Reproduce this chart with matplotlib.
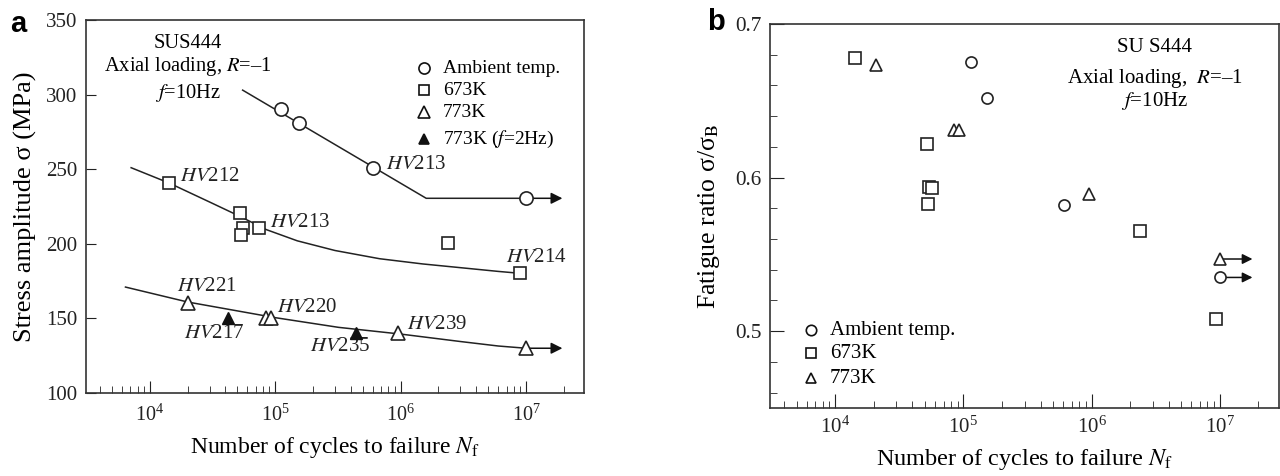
import numpy as np
import matplotlib
matplotlib.use("Agg")
import matplotlib.pyplot as plt
from matplotlib.ticker import LogLocator, MultipleLocator, NullFormatter, FormatStrFormatter

plt.rcParams['font.family'] = ['Liberation Serif', 'DejaVu Serif']
plt.rcParams['mathtext.fontset'] = 'stix'

# --- (a) S-N data, stress amplitude in MPa ---
amb_N = [1.12e5, 1.55e5, 6.0e5, 1.0e7]
amb_S = [290.5, 281, 251, 230.5]
k673_N = [1.42e4, 5.2e4, 5.5e4, 5.3e4, 7.4e4, 2.4e6, 9.0e6]
k673_S = [240.5, 220.5, 210.5, 206, 210.5, 200.5, 180.2]
k773_N = [2.0e4, 8.4e4, 9.2e4, 9.6e5, 1.0e7]
k773_S = [160.3, 150.3, 150.3, 140.5, 130]
k773f2_N = [4.2e4, 4.4e5]
k773f2_S = [150.5, 140.5]

# fitted S-N curves
amb_fit_N = [5.5e4, 1.6e6, 1.0e7]
amb_fit_S = [303, 230.5, 230.5]
k673_fit_N = [7.1e3, 1.42e4, 3.0e4, 5.2e4, 8.5e4, 1.5e5, 3.0e5, 6.8e5, 1.5e6, 3.0e6, 6.0e6, 9.0e6]
k673_fit_S = [251, 240.8, 228, 218.5, 209.5, 202, 195.5, 190, 186.5, 184, 181.5, 180.2]
k773_fit_N = [6.4e3, 2.0e4, 1.0e5, 3.2e5, 1.0e6, 3.0e6, 6.0e6, 1.0e7]
k773_fit_S = [171, 161, 150.5, 144, 139.5, 134.5, 131.5, 130]
runout_end = 1.95e7

# hardness labels: (N, S, text)
hv_labels = [
    (1.74e4, 245, 'HV212'),
    (7.7e5, 253, 'HV213'),
    (9.1e4, 214, 'HV213'),
    (6.9e6, 190.5, 'HV214'),
    (1.65e4, 171.7, 'HV221'),
    (1.87e4, 140, 'HV217'),
    (1.03e5, 157.6, 'HV220'),
    (1.9e5, 131, 'HV235'),
    (1.12e6, 145.6, 'HV239'),
]

# --- (b) fatigue ratio sigma / sigma_B ---
b_amb_N = [1.15e5, 1.54e5, 6.1e5, 1.0e7]
b_amb_R = [0.675, 0.652, 0.582, 0.535]
b_673_N = [1.43e4, 5.2e4, 5.4e4, 5.7e4, 5.3e4, 2.37e6, 9.3e6]
b_673_R = [0.678, 0.622, 0.594, 0.593, 0.583, 0.565, 0.508]
b_773_N = [2.1e4, 8.4e4, 9.3e4, 9.6e5, 1.0e7]
b_773_R = [0.673, 0.631, 0.631, 0.589, 0.547]
b_runout_end = 1.8e7

legend_a = ['Ambient temp.', '673K', '773K', '773K ($f$=2Hz)']
legend_b = ['Ambient temp.', '673K', '773K']

fig = plt.figure(figsize=(12.8, 4.76), dpi=100)
axa = fig.add_axes([86/1280, 83/476, 498/1280, 373/476])
axb = fig.add_axes([770/1280, 68/476, 509/1280, 384/476])


def style_axis(ax):
    ax.set_xscale('log')
    ax.set_xlim(3.1e3, 2.9e7)
    ax.xaxis.set_major_locator(LogLocator(base=10, numticks=10))
    ax.xaxis.set_minor_locator(LogLocator(base=10, subs=np.arange(2, 10), numticks=20))
    ax.xaxis.set_minor_formatter(NullFormatter())
    ax.tick_params(which='both', direction='in', top=False, right=False, colors='#222222')
    for s in ax.spines.values():
        s.set_linewidth(1.2)
        s.set_color('#333333')


ms_kw = dict(linestyle='none', markeredgecolor='#222222', markerfacecolor='white',
             markeredgewidth=1.2, zorder=4)

# ---------------- panel a ----------------
style_axis(axa)
axa.set_ylim(100, 350)
axa.yaxis.set_major_locator(MultipleLocator(50))
axa.tick_params(axis='x', which='major', length=9, pad=8, labelsize=14.5)
axa.tick_params(axis='x', which='minor', length=5)
axa.tick_params(axis='y', which='major', length=7, pad=6, labelsize=15)

axa.plot(amb_fit_N, amb_fit_S, color='#222222', lw=1.1, zorder=2)
axa.plot(k673_fit_N, k673_fit_S, color='#222222', lw=1.1, zorder=2)
axa.plot(k773_fit_N, k773_fit_S, color='#222222', lw=1.1, zorder=2)
for n0, s0 in [(amb_N[-1], amb_S[-1]), (k773_N[-1], k773_S[-1])]:
    axa.annotate('', xy=(runout_end, s0), xytext=(n0, s0),
                 arrowprops=dict(arrowstyle='-|>', color='#111111', lw=1.1,
                                 mutation_scale=17, shrinkA=0, shrinkB=0), zorder=2)

axa.plot(amb_N, amb_S, marker='o', markersize=9.5, **ms_kw)
axa.plot(k673_N, k673_S, marker='s', markersize=9, **ms_kw)
axa.plot(k773_N, k773_S, marker='^', markersize=10, **ms_kw)
axa.plot(k773f2_N, k773f2_S, marker='^', markersize=8, linestyle='none',
         color='#111111', zorder=4)

for n, s, t in hv_labels:
    axa.text(n, s, '$HV$' + t[2:], fontsize=15, ha='left', va='center', color='#222222')

axa.text(0.205, 0.938, 'SUS444', transform=axa.transAxes, ha='center', va='center', fontsize=14.8)
axa.text(0.205, 0.874, 'Axial loading, $R$=\u20131', transform=axa.transAxes,
         ha='center', va='center', fontsize=14.8)
axa.text(0.205, 0.804, '$f$=10Hz', transform=axa.transAxes, ha='center', va='center', fontsize=14.8)

leg_markers_a = [('o', 'white', 8), ('s', 'white', 7.5), ('^', 'white', 8.5), ('^', '#111111', 7.5)]
leg_y_a = [0.871, 0.812, 0.753, 0.681]
for (m, fc, sz), y, lab in zip(leg_markers_a, leg_y_a, legend_a):
    axa.plot([0.679], [y], marker=m, markersize=sz, markerfacecolor=fc,
             markeredgecolor='#111111', markeredgewidth=1.2, transform=axa.transAxes,
             clip_on=False)
    axa.text(0.717, y, lab, transform=axa.transAxes, ha='left', va='center', fontsize=14)

axa.set_ylabel('Stress amplitude σ (MPa)', fontsize=19)
axa.yaxis.set_label_coords(-0.098, 0.5)
axa.set_xlabel('Number of cycles to failure $N_\\mathrm{f}$', fontsize=17)
axa.xaxis.label.set_va('center')
axa.xaxis.set_label_coords(0.5, -0.145)

# ---------------- panel b ----------------
style_axis(axb)
axb.set_ylim(0.45, 0.70)
axb.yaxis.set_major_locator(MultipleLocator(0.1))
axb.yaxis.set_minor_locator(MultipleLocator(0.02))
axb.yaxis.set_major_formatter(FormatStrFormatter('%.1f'))
axb.tick_params(axis='x', which='major', length=10, pad=6, labelsize=15)
axb.tick_params(axis='x', which='minor', length=5)
axb.tick_params(axis='y', which='major', length=10, pad=6, labelsize=15.3)
axb.tick_params(axis='y', which='minor', length=5)

for n0, r0 in [(b_amb_N[-1], b_amb_R[-1]), (b_773_N[-1], b_773_R[-1])]:
    axb.annotate('', xy=(b_runout_end, r0), xytext=(n0, r0),
                 arrowprops=dict(arrowstyle='-|>', color='#111111', lw=1.1,
                                 mutation_scale=15, shrinkA=0, shrinkB=0), zorder=2)

axb.plot(b_amb_N, b_amb_R, marker='o', markersize=8, **ms_kw)
axb.plot(b_673_N, b_673_R, marker='s', markersize=8, **ms_kw)
axb.plot(b_773_N, b_773_R, marker='^', markersize=8.5, **ms_kw)

axb.text(0.756, 0.940, 'SU S444', transform=axb.transAxes, ha='center', va='center', fontsize=15)
axb.text(0.756, 0.859, 'Axial loading,  $R$=\u20131', transform=axb.transAxes,
         ha='center', va='center', fontsize=15)
axb.text(0.756, 0.800, '$f$=10Hz', transform=axb.transAxes, ha='center', va='center', fontsize=15)

leg_markers_b = ['o', 's', '^']
leg_y_b = [0.203, 0.143, 0.078]
for m, y, lab in zip(leg_markers_b, leg_y_b, legend_b):
    axb.plot([0.081], [y], marker=m, markersize=7.5, markerfacecolor='white',
             markeredgecolor='#111111', markeredgewidth=1.2, transform=axb.transAxes,
             clip_on=False)
    axb.text(0.118, y, lab, transform=axb.transAxes, ha='left', va='center', fontsize=15)

axb.set_ylabel('Fatigue ratio σ/σ$_\\mathrm{B}$', fontsize=18.5)
axb.yaxis.set_label_coords(-0.094, 0.5)
axb.set_xlabel('Number of cycles to failure $N_\\mathrm{f}$', fontsize=17.5)
axb.xaxis.label.set_va('center')
axb.xaxis.set_label_coords(0.5, -0.135)

fig.text(18/1280, 1 - 24/476, 'a', family='Liberation Sans', weight='bold',
         fontsize=21, ha='center', va='center')
fig.text(716/1280, 1 - 22/476, 'b', family='Liberation Sans', weight='bold',
         fontsize=21, ha='center', va='center')

fig.savefig('out.png', dpi=100)
